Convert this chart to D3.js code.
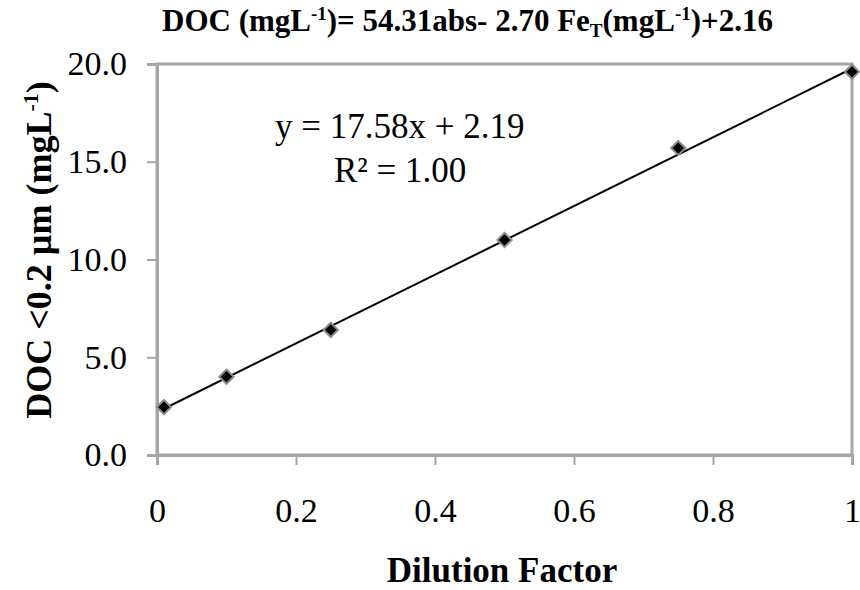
<!DOCTYPE html>
<html>
<head>
<meta charset="utf-8">
<script src="https://cdn.jsdelivr.net/npm/d3@7"></script>
</head>
<body style="margin:0">
<script>
// data
var dilution = [0.01, 0.1, 0.25, 0.5, 0.75, 1.0];
var doc = [2.45, 4.0, 6.4, 11.0, 15.7, 19.6];
var xTicks = [0, 0.2, 0.4, 0.6, 0.8, 1];
var yTicks = [0, 5, 10, 15, 20];
var slope = 17.58, intercept = 2.19;

var W = 860, H = 590;
var serif = "Liberation Serif";
var margin = {top: 64, right: 8, bottom: 135, left: 157},
    width = W - margin.left - margin.right,
    height = H - margin.top - margin.bottom;

var svg = d3.select("body").append("svg")
    .attr("width", W)
    .attr("height", H);

var g = svg.append("g")
    .attr("transform", "translate(" + margin.left + "," + margin.top + ")");

var x = d3.scaleLinear().domain([0, 1]).range([0, width]);
var y = d3.scaleLinear().domain([0, 20]).range([height, 0]);

var axisGray = "#a6a6a6";

// box: top and right borders
g.append("rect")
    .attr("x", 0).attr("y", 0)
    .attr("width", width).attr("height", height)
    .attr("fill", "none")
    .attr("stroke", axisGray)
    .attr("stroke-width", 3);

// y axis
var yAxis = g.append("g")
    .call(d3.axisLeft(y).tickValues(yTicks).tickSize(10).tickPadding(20)
        .tickFormat(d3.format(".1f")));
yAxis.select(".domain").attr("stroke", axisGray).attr("stroke-width", 3);
yAxis.selectAll(".tick line").attr("stroke", axisGray).attr("stroke-width", 2);
yAxis.selectAll(".tick text").attr("fill", "#000").attr("font-size", 34);

// x axis
var xAxis = g.append("g")
    .attr("transform", "translate(0," + height + ")")
    .call(d3.axisBottom(x).tickValues(xTicks).tickSize(10).tickPadding(44)
        .tickFormat(function(d) { return d3.format("")(d); }));
xAxis.select(".domain").attr("stroke", axisGray).attr("stroke-width", 3);
xAxis.selectAll(".tick line").attr("stroke", axisGray).attr("stroke-width", 2);
xAxis.selectAll(".tick text").attr("fill", "#000").attr("font-size", 34)
    .attr("dy", null).attr("y", 67);

// trendline
var xr = d3.extent(dilution);
g.append("line")
    .attr("x1", x(xr[0])).attr("y1", y(slope * xr[0] + intercept))
    .attr("x2", x(xr[1])).attr("y2", y(slope * xr[1] + intercept))
    .attr("stroke", "#000")
    .attr("stroke-width", 2);

// points
g.selectAll(".pt")
    .data(dilution)
  .enter().append("path")
    .attr("class", "pt")
    .attr("d", d3.symbol().type(d3.symbolDiamond2).size(130))
    .attr("transform", function(d, i) { return "translate(" + x(d) + "," + y(doc[i]) + ")"; })
    .attr("fill", "#000")
    .attr("stroke", "#8c8c8c")
    .attr("stroke-width", 2);

// equation
svg.append("text")
    .attr("x", 275).attr("y", 138)
    .attr("font-size", 35)
    .text("y = " + slope.toFixed(2) + "x + " + intercept.toFixed(2));
svg.append("text")
    .attr("x", 334).attr("y", 182)
    .attr("font-size", 35)
    .text("R² = 1.00");

// title
var title = svg.append("text")
    .attr("x", 162).attr("y", 31)
    .attr("font-size", 31)
    .attr("font-weight", "bold");
title.append("tspan").text("DOC (mgL");
title.append("tspan").attr("dy", -11).attr("font-size", 19).text("-1");
title.append("tspan").attr("dy", 11).text(")= 54.31abs- 2.70 Fe");
title.append("tspan").attr("dy", 6).attr("font-size", 19).text("T");
title.append("tspan").attr("dy", -6).text("(mgL");
title.append("tspan").attr("dy", -11).attr("font-size", 19).text("-1");
title.append("tspan").attr("dy", 11).text(")+2.16");

// y label
var ylab = svg.append("text")
    .attr("transform", "translate(51,250) rotate(-90)")
    .attr("text-anchor", "middle")
    .attr("font-size", 36)
    .attr("font-weight", "bold");
ylab.append("tspan").text("DOC <0.2 µm (mgL");
ylab.append("tspan").attr("dy", -13).attr("font-size", 22).text("-1");
ylab.append("tspan").attr("dy", 13).text(")");

// x label
svg.append("text")
    .attr("x", 502).attr("y", 582)
    .attr("text-anchor", "middle")
    .attr("font-size", 35)
    .attr("font-weight", "bold")
    .text("Dilution Factor");

// serif on every text node
svg.selectAll("text, tspan").attr("font-family", serif);
</script>
</body>
</html>
